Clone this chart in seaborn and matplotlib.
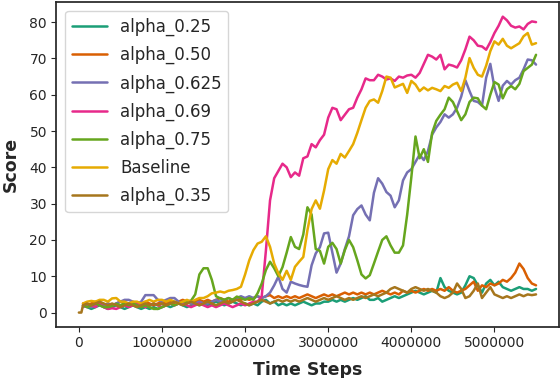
import numpy as np
import pandas as pd
import matplotlib
matplotlib.use("Agg")
import matplotlib.pyplot as plt
import seaborn as sns

# time axis: one reading every 50k steps, 50k .. 5.5M
steps = np.arange(1, 111) * 50000

# each row of 10 values covers 0.5M steps
alpha_025 = [
    2.0, 1.5, 1.0, 1.5, 2.0, 1.5, 1.0, 1.5, 2.0, 1.5,
    1.0, 1.5, 2.0, 1.5, 1.0, 1.5, 1.0, 1.5, 1.0, 1.5,
    2.0, 1.5, 2.0, 2.5, 2.0, 1.5, 2.0, 2.5, 2.0, 2.5,
    2.0, 2.5, 3.0, 2.5, 2.0, 2.5, 3.0, 2.5, 2.0, 2.5,
    2.0, 2.5, 2.0, 3.0, 3.5, 2.5, 3.0, 2.0, 2.5, 2.0,
    2.5, 2.0, 2.5, 3.0, 2.5, 2.0, 2.5, 2.5, 3.0, 3.0,
    3.5, 3.0, 3.5, 3.0, 3.5, 4.0, 3.5, 4.0, 4.5, 3.5,
    3.5, 4.0, 3.0, 3.5, 4.0, 4.5, 4.0, 4.5, 5.0, 5.5,
    6.0, 5.5, 5.0, 5.5, 6.0, 5.5, 9.5, 7.0, 6.0, 5.5,
    5.0, 5.5, 7.5, 10.0, 9.5, 7.5, 5.5, 8.0, 9.0, 7.5,
    8.5, 7.0, 6.5, 6.0, 6.5, 7.0, 6.5, 6.5, 6.0, 6.5,
]
alpha_050 = [
    2.5, 2.0, 2.5, 3.0, 2.5, 2.0, 2.5, 2.0, 2.5, 3.0,
    2.5, 2.0, 2.5, 2.0, 2.5, 3.0, 2.5, 2.0, 2.5, 3.0,
    2.5, 3.0, 2.5, 3.0, 3.5, 3.0, 2.5, 3.0, 3.5, 3.0,
    3.5, 3.0, 3.5, 4.0, 3.5, 3.0, 3.5, 4.0, 3.5, 4.0,
    3.5, 4.0, 4.5, 4.0, 4.5, 4.8, 4.0, 4.5, 4.0, 4.5,
    4.0, 4.5, 4.0, 4.5, 5.0, 4.5, 4.0, 4.5, 5.0, 4.5,
    5.0, 4.5, 5.0, 5.5, 5.0, 5.5, 5.0, 5.5, 5.0, 5.5,
    5.0, 5.5, 6.0, 5.5, 5.0, 5.5, 5.0, 6.0, 5.5, 6.0,
    5.5, 6.0, 6.5, 6.0, 6.5, 6.0, 6.5, 6.0, 7.0, 6.0,
    5.5, 6.0, 6.5, 7.5, 8.5, 6.0, 7.5, 7.0, 8.0, 7.5,
    8.0, 9.0, 8.5, 9.5, 11.0, 13.5, 12.0, 9.5, 8.0, 7.5,
]
alpha_0625 = [
    1.5, 2.0, 1.5, 2.0, 2.5, 2.0, 2.5, 2.0, 2.5, 3.0,
    3.5, 3.5, 3.0, 2.5, 3.0, 4.8, 4.8, 4.8, 3.5, 3.0,
    3.5, 4.0, 4.0, 3.0, 2.5, 3.0, 2.5, 2.5, 3.0, 2.5,
    2.5, 3.0, 3.5, 3.0, 3.5, 4.0, 3.5, 4.0, 4.5, 4.0,
    4.5, 4.0, 4.5, 4.0, 4.5, 5.5, 7.5, 9.9, 6.5, 5.5,
    8.5, 8.0, 7.6, 7.3, 7.1, 13.0, 16.3, 18.0, 21.8, 22.0,
    16.5, 11.0, 13.5, 17.5, 21.0, 26.8, 28.5, 29.5, 27.0, 25.4,
    33.0, 37.0, 35.5, 33.2, 32.2, 29.0, 30.9, 36.4, 38.6, 39.5,
    41.5, 43.5, 42.0, 44.5, 49.0, 51.0, 52.5, 54.6, 53.7, 54.6,
    56.4, 59.5, 64.0, 61.0, 58.3, 58.0, 57.0, 64.7, 68.5, 62.0,
    58.3, 62.5, 63.8, 62.8, 64.0, 64.7, 67.0, 69.7, 69.5, 68.3,
]
alpha_069 = [
    2.0, 1.5, 2.0, 1.5, 2.5, 1.5, 1.0, 1.2, 1.0, 1.5,
    2.0, 1.5, 2.0, 2.5, 2.0, 1.5, 2.0, 2.5, 2.0, 1.5,
    2.0, 2.5, 2.0, 2.5, 3.0, 2.0, 1.5, 2.0, 2.5, 2.0,
    1.5, 2.0, 1.5, 2.0, 2.5, 2.0, 1.5, 2.0, 2.5, 2.0,
    2.5, 3.0, 3.0, 4.5, 17.0, 30.9, 37.0, 39.0, 41.0, 40.0,
    37.3, 38.6, 37.7, 42.5, 43.0, 46.4, 45.5, 47.5, 49.0, 53.7,
    56.4, 56.0, 53.0, 54.5, 56.0, 56.4, 59.2, 61.5, 64.5, 64.0,
    64.0, 65.5, 65.0, 64.2, 64.5, 63.8, 65.0, 64.7, 65.3, 65.5,
    64.7, 66.0, 68.5, 71.0, 70.5, 69.7, 71.0, 67.0, 68.3, 68.0,
    67.5, 69.5, 72.5, 76.0, 75.0, 73.5, 73.3, 72.4, 74.5, 77.0,
    79.0, 81.5, 80.5, 79.0, 78.5, 78.8, 78.0, 79.5, 80.2, 80.0,
]
alpha_075 = [
    2.0, 1.5, 2.0, 2.5, 2.0, 1.5, 1.5, 1.8, 2.4, 2.0,
    2.5, 2.0, 2.5, 2.0, 1.5, 2.0, 1.5, 1.0, 1.0, 1.5,
    2.0, 2.5, 2.0, 2.5, 3.0, 3.0, 3.3, 5.0, 10.5, 12.2,
    12.2, 9.0, 4.5, 3.9, 3.5, 4.0, 3.5, 4.4, 4.0, 3.5,
    4.0, 3.5, 5.3, 8.0, 11.7, 14.0, 12.2, 10.0, 12.5, 16.5,
    20.8, 18.1, 17.5, 21.5, 29.0, 27.0, 17.5, 17.0, 13.5, 18.1,
    19.2, 17.5, 13.5, 17.2, 20.0, 18.0, 14.4, 10.5, 9.4, 10.3,
    13.5, 16.8, 20.0, 21.0, 18.5, 16.5, 16.5, 18.5, 27.0, 37.3,
    48.5, 42.5, 45.0, 41.5, 49.5, 52.8, 54.5, 56.0, 59.2, 58.0,
    55.5, 53.0, 54.6, 58.0, 59.2, 59.0, 57.0, 56.0, 60.0, 63.5,
    62.8, 59.0, 61.5, 62.4, 61.5, 63.0, 66.5, 67.4, 68.3, 71.0,
]
baseline = [
    2.5, 3.0, 3.2, 3.0, 3.5, 3.5, 3.0, 3.9, 4.0, 3.0,
    3.0, 2.5, 3.0, 3.0, 2.5, 3.0, 3.5, 3.0, 3.5, 3.5,
    3.0, 3.5, 3.0, 2.5, 3.0, 3.5, 3.0, 3.5, 4.0, 4.0,
    4.5, 5.3, 5.5, 5.8, 5.5, 6.0, 6.2, 6.5, 7.1, 10.5,
    14.4, 17.2, 19.0, 19.5, 21.0, 18.1, 13.5, 10.8, 9.0, 11.5,
    9.0, 12.6, 14.0, 15.3, 22.7, 28.5, 30.9, 28.6, 33.6, 39.5,
    42.0, 41.0, 43.7, 42.7, 44.5, 46.4, 49.5, 53.0, 56.4, 58.3,
    58.7, 57.8, 61.0, 65.0, 64.7, 62.0, 62.5, 63.0, 60.5, 63.8,
    62.8, 61.0, 62.0, 61.2, 61.9, 61.5, 61.0, 62.4, 61.9, 62.8,
    63.3, 61.0, 64.7, 70.1, 67.4, 65.5, 65.0, 68.0, 72.0, 74.7,
    73.8, 75.4, 73.5, 72.8, 73.5, 74.2, 76.1, 77.0, 73.8, 74.2,
]
alpha_035 = [
    2.0, 2.5, 2.0, 2.5, 3.0, 2.5, 2.0, 2.5, 2.0, 1.5,
    2.0, 2.5, 2.0, 1.5, 2.0, 2.5, 2.0, 2.5, 2.0, 2.5,
    2.0, 2.5, 3.0, 2.5, 2.0, 2.5, 3.0, 2.5, 2.0, 2.5,
    3.0, 2.5, 2.0, 2.5, 3.0, 2.5, 3.0, 3.5, 3.0, 2.5,
    2.0, 2.5, 3.0, 3.5, 3.0, 2.5, 3.0, 3.5, 3.0, 3.5,
    3.0, 3.5, 3.0, 3.5, 4.0, 3.5, 3.0, 3.5, 4.0, 3.5,
    4.0, 4.5, 4.0, 3.5, 4.0, 3.5, 4.0, 4.5, 4.0, 4.5,
    5.0, 4.5, 5.0, 5.5, 6.5, 7.0, 6.5, 6.0, 5.5, 6.5,
    7.0, 6.5, 6.0, 6.5, 6.0, 5.5, 4.5, 4.0, 4.5, 5.5,
    8.0, 6.5, 4.0, 4.5, 6.0, 8.0, 4.0, 5.5, 7.0, 5.0,
    4.5, 4.0, 4.5, 4.0, 4.5, 5.0, 4.5, 5.0, 4.8, 5.0,
]
# alpha_0.35 also has a reading of 0 at step 0
start_steps = [0, 30000]
start_035 = [0.0, 0.0]

labels = ["alpha_0.25", "alpha_0.50", "alpha_0.625", "alpha_0.69",
          "alpha_0.75", "Baseline", "alpha_0.35"]
series = [alpha_025, alpha_050, alpha_0625, alpha_069,
          alpha_075, baseline, alpha_035]

frames = []
for lab, vals in zip(labels, series):
    x, y = list(steps), list(vals)
    if lab == "alpha_0.35":
        x, y = start_steps + x, start_035 + y
    frames.append(pd.DataFrame({"step": x, "score": y, "run": lab}))
df = pd.concat(frames, ignore_index=True)

sns.set_style("ticks")
plt.rcParams.update({"font.family": ["DejaVu Sans"], "axes.edgecolor": "#262626",
                     "axes.linewidth": 1.25, "xtick.labelsize": 10, "ytick.labelsize": 10,
                     "xtick.major.size": 3.5, "ytick.major.size": 3.5,
                     "xtick.major.pad": 3.0, "ytick.major.pad": 3.0,
                     "xtick.color": "#262626", "ytick.color": "#262626"})

fig, ax = plt.subplots(figsize=(5.6, 3.78), dpi=100)
fig.subplots_adjust(left=0.1, right=0.998, bottom=0.134, top=0.995)

sns.lineplot(data=df, x="step", y="score", hue="run", hue_order=labels,
             palette=sns.color_palette("Dark2", 7), estimator=None, sort=False,
             lw=1.8, ax=ax)

ax.ticklabel_format(style="plain", axis="x")
ax.set_xticks([0, 1000000, 2000000, 3000000, 4000000, 5000000])
ax.set_yticks([0, 10, 20, 30, 40, 50, 60, 70, 80])
ax.set_xlabel("Time Steps", fontsize=12.5, fontweight="bold", labelpad=8)
ax.set_ylabel("Score", fontsize=12.5, fontweight="bold", labelpad=7)
ax.legend(loc="upper left", fontsize=12, labelspacing=0.6, handlelength=2.1,
          borderaxespad=0.55)

fig.savefig("out.png", dpi=100)
